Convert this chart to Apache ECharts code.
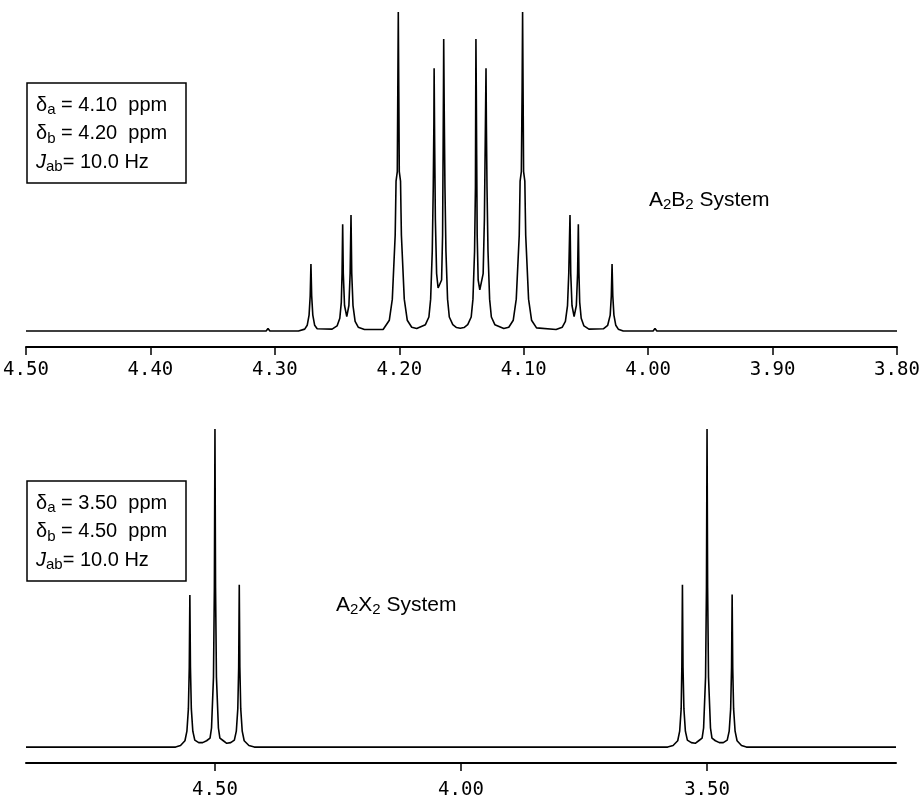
<!DOCTYPE html>
<html>
<head>
<meta charset="utf-8">
<script src="https://cdn.jsdelivr.net/npm/echarts@6/dist/echarts.min.js"></script>
<style>
  html, body { margin: 0; padding: 0; background: #fff; }
  #spectra { width: 923px; height: 800px; }
</style>
</head>
<body>
<div id="spectra"></div>
<script>
// tick labels (ppm)
const topTicks = [4.5, 4.4, 4.3, 4.2, 4.1, 4.0, 3.9, 3.8];
const bottomTicks = [4.5, 4.0, 3.5];

// A2B2 trace: [ppm, relative intensity]
const a2b2Spectrum = [
  [4.500, 0], [4.307, 0], [4.3055, 0.8], [4.304, 0],
  [4.281, 0], [4.276, 0.6], [4.274, 1.8], [4.2725, 5], [4.2716, 11], [4.2710, 21], [4.2704, 11], [4.2695, 5], [4.2680, 1.8], [4.2660, 0.7],
  [4.2540, 0.6], [4.2500, 1.6], [4.2478, 4], [4.2466, 9], [4.2460, 18], [4.2455, 33.5], [4.2450, 18], [4.2440, 8], [4.2422, 4.5],
  [4.2405, 8], [4.2395, 18], [4.2388, 36.4], [4.2382, 18], [4.2372, 8], [4.2355, 3], [4.2330, 1.2], [4.2280, 0.5],
  [4.2130, 0.5], [4.2120, 1], [4.2080, 3.4], [4.2056, 10], [4.2033, 30], [4.2030, 37], [4.2026, 47], [4.2016, 50], [4.2012, 75],
  [4.2008, 100], [4.2004, 75], [4.2000, 50], [4.1990, 47], [4.1986, 37], [4.1983, 30], [4.1960, 10], [4.1936, 3.4], [4.1900, 1.2],
  [4.1860, 0.8],
  [4.1790, 2], [4.1762, 4.4], [4.1748, 10], [4.1735, 25], [4.1727, 45], [4.1722, 65], [4.1720, 82.4], [4.1716, 60], [4.1710, 35],
  [4.1700, 18], [4.1688, 13.5], [4.1673, 12.9], [4.1660, 16], [4.1652, 30], [4.1648, 55], [4.1645, 75], [4.1643, 91.5], [4.1639, 70],
  [4.1633, 45], [4.1625, 25], [4.1612, 10], [4.1598, 4.4], [4.1570, 2], [4.1540, 1.1],
  [4.1510, 0.9],
  [4.1480, 1.1], [4.1450, 2], [4.1422, 4.4], [4.1408, 10], [4.1395, 25], [4.1388, 45], [4.1386, 70], [4.1384, 91.5], [4.1381, 75],
  [4.1378, 55], [4.1374, 30], [4.1366, 16], [4.1353, 12.9], [4.1338, 13.5], [4.1326, 18], [4.1316, 35], [4.1309, 60], [4.1303, 82.4],
  [4.1300, 65], [4.1295, 45], [4.1287, 25], [4.1274, 10], [4.1260, 4.4], [4.1232, 2],
  [4.1160, 0.8],
  [4.1120, 1.2], [4.1084, 3.4], [4.1060, 10], [4.1036, 30], [4.1033, 37], [4.1029, 47], [4.1019, 50], [4.1013, 75], [4.1009, 100],
  [4.1005, 75], [4.1001, 50], [4.0991, 47], [4.0987, 37], [4.0984, 30], [4.0961, 10], [4.0937, 3.4], [4.0897, 1], [4.0887, 0.5],
  [4.0740, 0.5], [4.0690, 1.2], [4.0665, 3], [4.0648, 8], [4.0638, 18], [4.0628, 36.4], [4.0622, 18], [4.0612, 8], [4.0595, 4.5],
  [4.0577, 8], [4.0567, 18], [4.0561, 33.5], [4.0556, 18], [4.0550, 9], [4.0538, 4], [4.0516, 1.6], [4.0476, 0.6],
  [4.0360, 0.7], [4.0325, 1.8], [4.0305, 5], [4.0296, 11], [4.0290, 21], [4.0284, 11], [4.0275, 5], [4.0260, 1.8], [4.0240, 0.6], [4.0200, 0],
  [3.9960, 0], [3.9945, 0.8], [3.9930, 0], [3.800, 0]
];

// A2X2 trace
const a2x2Spectrum = [
  [4.884, 0], [4.580, 0], [4.570, 0.5], [4.561, 2], [4.557, 5], [4.554, 12], [4.5522, 25], [4.551, 47.8], [4.5498, 25], [4.548, 12],
  [4.545, 5], [4.541, 2.2], [4.533, 1.4], [4.525, 1.4], [4.517, 2], [4.510, 2.8], [4.507, 6], [4.503, 22], [4.5012, 50], [4.500, 100],
  [4.4988, 50], [4.497, 22], [4.493, 6], [4.490, 2.8], [4.483, 2], [4.476, 1.2], [4.468, 1.4], [4.4606, 2.2], [4.4566, 5], [4.4536, 12],
  [4.4518, 25], [4.4506, 51], [4.4494, 25], [4.4476, 12], [4.4446, 5], [4.4406, 2], [4.431, 0.5], [4.420, 0],
  [3.580, 0], [3.569, 0.5], [3.5596, 2], [3.5556, 5], [3.5526, 12], [3.5512, 25], [3.550, 51], [3.5488, 25], [3.547, 12], [3.544, 5],
  [3.540, 2.2], [3.532, 1.4], [3.524, 1.2], [3.517, 2], [3.510, 2.8], [3.507, 6], [3.503, 22], [3.5012, 50], [3.500, 100], [3.4988, 50],
  [3.497, 22], [3.493, 6], [3.490, 2.8], [3.483, 2], [3.475, 1.4], [3.467, 1.4], [3.459, 2.2], [3.455, 5], [3.452, 12], [3.4502, 25],
  [3.449, 48], [3.4478, 25], [3.446, 12], [3.443, 5], [3.439, 2], [3.430, 0.5], [3.420, 0], [3.116, 0]
];

const a2b2Params = ["4.10", "4.20", "10.0"];
const a2x2Params = ["3.50", "4.50", "10.0"];

const boxRich = {
  g: { fontFamily: "Liberation Sans", fontSize: 20, color: "#000" },
  s: { fontFamily: "Liberation Sans", fontSize: 15, color: "#000", padding: [10, 0, 0, 0] },
  j: { fontFamily: "Liberation Sans", fontSize: 20, fontStyle: "italic", color: "#000" }
};

// parameter box (rect + three text lines)
let paramBox = (top, p) => {
  const lines = [
    "{g|δ}{s|a}{g| = " + p[0] + "  ppm}",
    "{g|δ}{s|b}{g| = " + p[1] + "  ppm}",
    "{j|J}{s|ab}{g|= " + p[2] + " Hz}"
  ];
  const els = [{
    type: "rect",
    shape: { x: 27, y: top, width: 159, height: 100 },
    style: { fill: "#fff", stroke: "#000", lineWidth: 1.5 }
  }];
  lines.forEach((t, i) => {
    els.push({
      type: "text",
      x: 36,
      y: top + 22 + i * 28.5,
      style: { text: t, rich: boxRich, verticalAlign: "middle", align: "left" }
    });
  });
  return els;
};

const titleRich = {
  n: { fontFamily: "Liberation Sans", fontSize: 21, color: "#000" },
  s: { fontFamily: "Liberation Sans", fontSize: 15, color: "#000", padding: [10, 0, 0, 0] }
};

let xAxisFor = (gridIndex, min, max, ticks, margin) => ({
  gridIndex: gridIndex,
  type: "value",
  min: min,
  max: max,
  inverse: true,
  axisLine: { show: true, onZero: false, lineStyle: { color: "#000", width: 2 } },
  axisTick: { show: true, length: 8, customValues: ticks, lineStyle: { color: "#000", width: 1.5 } },
  axisLabel: {
    customValues: ticks,
    formatter: (v) => v.toFixed(2),
    fontFamily: "DejaVu Sans Mono",
    fontSize: 19,
    color: "#000",
    margin: margin
  },
  splitLine: { show: false }
});

const option = {
  animation: false,
  backgroundColor: "#fff",
  grid: [
    { left: 26, right: 26, top: 12, bottom: 453 },
    { left: 26, right: 27, top: 429, bottom: 37 }
  ],
  xAxis: [
    xAxisFor(0, 3.8, 4.5, topTicks, 14),
    xAxisFor(1, 3.116, 4.884, bottomTicks, 18)
  ],
  yAxis: [
    { gridIndex: 0, type: "value", min: -5, max: 100, show: false },
    { gridIndex: 1, type: "value", min: -5, max: 100, show: false }
  ],
  series: [
    {
      name: "A2B2",
      type: "line",
      xAxisIndex: 0,
      yAxisIndex: 0,
      showSymbol: false,
      lineStyle: { color: "#000", width: 1.6 },
      data: a2b2Spectrum
    },
    {
      name: "A2X2",
      type: "line",
      xAxisIndex: 1,
      yAxisIndex: 1,
      showSymbol: false,
      lineStyle: { color: "#000", width: 1.6 },
      data: a2x2Spectrum
    }
  ],
  graphic: [
    ...paramBox(83, a2b2Params),
    ...paramBox(481, a2x2Params),
    {
      type: "text",
      x: 649,
      y: 200,
      style: { text: "{n|A}{s|2}{n|B}{s|2}{n| System}", rich: titleRich, verticalAlign: "middle" }
    },
    {
      type: "text",
      x: 336,
      y: 605,
      style: { text: "{n|A}{s|2}{n|X}{s|2}{n| System}", rich: titleRich, verticalAlign: "middle" }
    }
  ]
};

let setOption = () => {
  const el = document.getElementById("spectra");
  if (!el) return;
  let chart = echarts.init(el);
  chart.setOption(option);
};
setOption();
</script>
</body>
</html>
